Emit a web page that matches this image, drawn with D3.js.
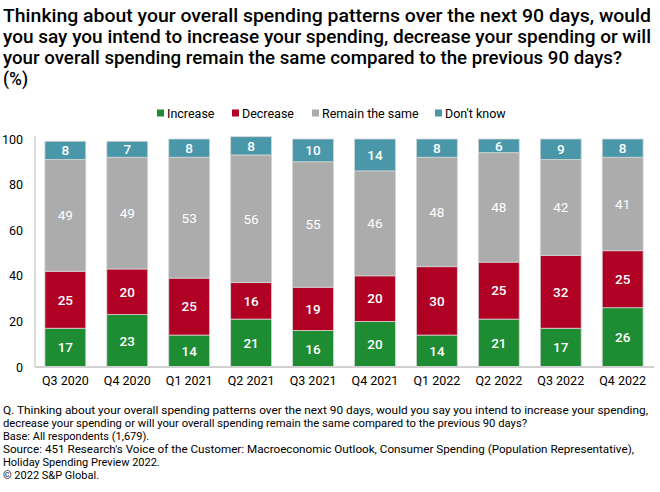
<!DOCTYPE html>
<html><head><meta charset="utf-8">
<script src="https://cdn.jsdelivr.net/npm/d3@7"></script>
<style>
html,body{margin:0;padding:0;background:#fff;}
svg{display:block;font-family:Roboto, "Noto Sans", sans-serif;}
</style></head>
<body><svg id="c" width="660" height="492"></svg>
<script>
const categories = ["Q3 2020","Q4 2020","Q1 2021","Q2 2021","Q3 2021","Q4 2021","Q1 2022","Q2 2022","Q3 2022","Q4 2022"];
const seriesNames = ["Increase","Decrease","Remain the same","Don't know"];
const increase = [17,23,14,21,16,20,14,21,17,26];
const decrease = [25,20,25,16,19,20,30,25,32,25];
const remain   = [49,49,53,56,55,46,48,48,42,41];
const dontKnow = [8,7,8,8,10,14,8,6,9,8];
const yTicks = [0,20,40,60,80,100];
const colors = ["#1e8c32","#b00023","#acacac","#4a97aa"];
const titleLines = [
  "Thinking about your overall spending patterns over the next 90 days, would",
  "you say you intend to increase your spending, decrease your spending or will",
  "your overall spending remain the same compared to the previous 90 days?",
  "(%)"
];
const titleWidths = [648, 648, 619, null];
const footLines = [
  "Q. Thinking about your overall spending patterns over the next 90 days, would you say you intend to increase your spending,",
  "decrease your spending or will your overall spending remain the same compared to the previous 90 days?",
  "Base: All respondents (1,679).",
  "Source: 451 Research's Voice of the Customer: Macroeconomic Outlook, Consumer Spending (Population Representative),",
  "Holiday Spending Preview 2022.",
  "\u00A9 2022 S&P Global."
];
const footWidths = [645, 524, null, 631, null, null];

const svg = d3.select("#c");

// Title
const tl = svg.append("g").selectAll("text").data(titleLines).join("text")
  .attr("x", 3).attr("y", (d,i)=>22 + i*21)
  .attr("font-size", 17.5).attr("font-weight", 500).attr("fill","#000")
  .text(d=>d);
tl.each(function(d,i){
  if (titleWidths[i]) d3.select(this).attr("textLength", titleWidths[i]).attr("lengthAdjust","spacingAndGlyphs");
});

// Data table
const table = categories.map((c,i)=>({cat:c, "Increase":increase[i], "Decrease":decrease[i], "Remain the same":remain[i], "Don't know":dontKnow[i]}));
const stack = d3.stack().keys(seriesNames)(table);

const x = d3.scaleBand().domain(categories).range([35,653]).paddingInner(0.34).paddingOuter(0.16);
const y = d3.scaleLinear().domain([0,100]).range([367,139]);

// Legend
const legendX = [157, 232, 312, 435];
const lg = svg.append("g").selectAll("g").data(seriesNames).join("g")
  .attr("transform",(d,i)=>`translate(${legendX[i]},113)`);
lg.append("rect").attr("x",0).attr("y",-3.5).attr("width",7).attr("height",7).attr("fill",(d,i)=>colors[i]);
lg.append("text").attr("x",10).attr("y",4.5).attr("font-size",12.5).attr("fill","#000").text(d=>d);

// Bars
const sg = svg.append("g").selectAll("g").data(stack).join("g").attr("fill",(d,i)=>colors[i]);
sg.selectAll("rect").data(d=>d).join("rect")
  .attr("x", d=>x(d.data.cat))
  .attr("y", d=>y(d[1]))
  .attr("width", x.bandwidth())
  .attr("height", d=>y(d[0])-y(d[1]))
  .attr("stroke","#d4d4d4").attr("stroke-width",0.8);

// Labels
const lgG = svg.append("g").selectAll("g").data(stack).join("g");
lgG.selectAll("text").data(d=>d.map(v=>({v, key:d.key}))).join("text")
  .attr("x", d=>x(d.v.data.cat)+x.bandwidth()/2)
  .attr("y", d=>(y(d.v[0])+y(d.v[1]))/2)
  .attr("dy","0.36em")
  .attr("text-anchor","middle")
  .attr("font-size",13.5).attr("fill","#fff")
  .attr("font-weight", d=>d.key==="Remain the same"?400:500)
  .text(d=>d.v.data[d.key]);

// Y axis
const ya = svg.append("g").attr("transform","translate(35,0)")
  .call(d3.axisLeft(y).tickValues(yTicks).tickSize(0).tickPadding(12));
ya.select(".domain").attr("stroke","#d0d0d0").attr("stroke-width",1.5).attr("d","M0,136V367");
ya.selectAll("text").attr("font-size",12.5).attr("fill","#000").attr("font-family","Roboto, sans-serif");

// X axis
const xa = svg.append("g").attr("transform","translate(0,367)")
  .call(d3.axisBottom(x).tickSize(0).tickPadding(9));
xa.select(".domain").attr("stroke","#d0d0d0").attr("stroke-width",2).attr("d","M35,0H654");
xa.selectAll("text").attr("font-size",12.5).attr("fill","#000").attr("font-family","Roboto, sans-serif");

// Footer
const fl = svg.append("g").selectAll("text").data(footLines).join("text")
  .attr("x",3).attr("y",(d,i)=>414 + i*13)
  .attr("font-size",11).attr("fill","#000").text(d=>d);
fl.each(function(d,i){
  if (footWidths[i]) d3.select(this).attr("textLength", footWidths[i]).attr("lengthAdjust","spacingAndGlyphs");
});
</script></body></html>
